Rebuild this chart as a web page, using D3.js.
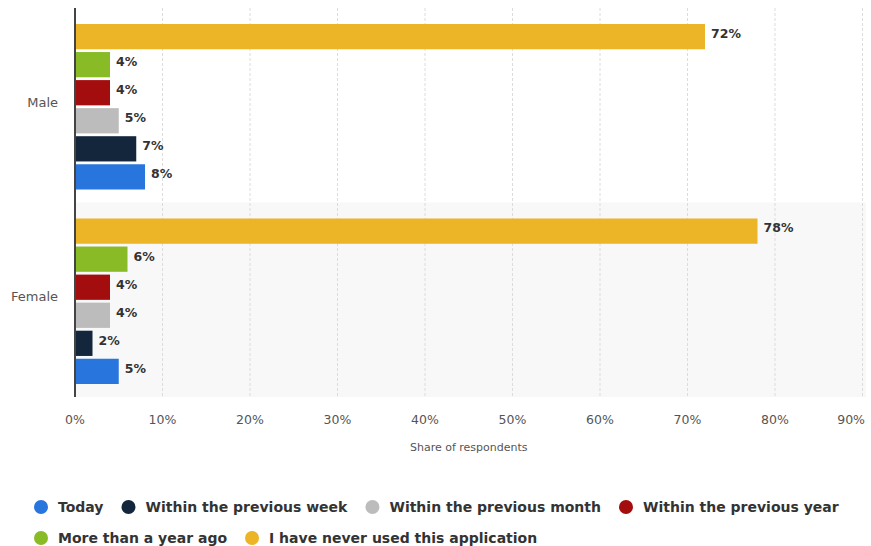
<!DOCTYPE html>
<html>
<head>
<meta charset="utf-8">
<script src="https://cdn.jsdelivr.net/npm/d3@7"></script>
<style>
  body { margin: 0; background: #fff; }
  text { font-family: "DejaVu Sans", sans-serif; }
</style>
</head>
<body>
<div id="chart"></div>
<script>
// data
const groups = ["Male", "Female"];
const seriesNames = ["Today", "Within the previous week", "Within the previous month",
  "Within the previous year", "More than a year ago", "I have never used this application"];
const seriesColors = ["#2876dd", "#13263c", "#bcbcbc", "#a40d0d", "#88bb25", "#ecb427"];
const maleValues = [8, 7, 5, 4, 4, 72];
const femaleValues = [5, 2, 4, 4, 6, 78];
const xTicks = [0, 10, 20, 30, 40, 50, 60, 70, 80, 90];

const width = 871, height = 546;
const plotLeft = 75, plotRight = 862.5, plotTop = 8, plotBottom = 397;

const svg = d3.select("#chart").append("svg")
  .attr("width", width)
  .attr("height", height);

const x = d3.scaleLinear().domain([0, 90]).range([plotLeft, plotRight]);
const y = d3.scaleBand().domain(groups).range([plotTop, plotBottom]);
// bars are listed top-down in reverse legend order
const inner = d3.scaleBand()
  .domain(d3.range(seriesNames.length).reverse())
  .range([16, y.bandwidth() - 13])
  .paddingInner(0.1);

const valuesFor = g => g === "Male" ? maleValues : femaleValues;

// shaded band for female
svg.append("rect")
  .attr("x", plotLeft)
  .attr("y", y("Female"))
  .attr("width", 866 - plotLeft)
  .attr("height", y.bandwidth())
  .attr("fill", "#f8f8f8");

// gridlines
svg.selectAll(".grid")
  .data(xTicks.slice(1))
  .enter()
  .append("line")
  .attr("x1", d => x(d)).attr("x2", d => x(d))
  .attr("y1", plotTop).attr("y2", plotBottom)
  .attr("stroke", "#dcdcdc")
  .attr("stroke-dasharray", "3,2");

// bars
groups.forEach(g => {
  const vals = valuesFor(g);
  const gg = svg.append("g").attr("transform", `translate(0,${y(g)})`);
  gg.selectAll("rect")
    .data(vals.map((v, i) => ({ v, i })))
    .enter()
    .append("rect")
    .attr("x", x(0))
    .attr("y", d => inner(d.i))
    .attr("width", d => x(d.v) - x(0))
    .attr("height", inner.bandwidth())
    .attr("fill", d => seriesColors[d.i]);

  gg.selectAll("text")
    .data(vals.map((v, i) => ({ v, i })))
    .enter()
    .append("text")
    .attr("x", d => x(d.v) + 6)
    .attr("y", d => inner(d.i) + inner.bandwidth() / 2 - 3)
    .attr("dy", "0.35em")
    .attr("font-size", "12.5px")
    .attr("font-weight", "bold")
    .attr("fill", "#333")
    .text(d => d.v + "%");

  svg.append("text")
    .attr("x", 58)
    .attr("y", y(g) + y.bandwidth() / 2 - 3)
    .attr("dy", "0.35em")
    .attr("text-anchor", "end")
    .attr("font-size", "13px")
    .attr("fill", "#555")
    .text(g);
});

// left axis line
svg.append("line")
  .attr("x1", plotLeft).attr("x2", plotLeft)
  .attr("y1", plotTop).attr("y2", plotBottom)
  .attr("stroke", "#444")
  .attr("stroke-width", 2);

// x tick labels (last one kept inside the frame)
svg.selectAll(".xtick")
  .data(xTicks)
  .enter()
  .append("text")
  .attr("x", (d, i) => i === xTicks.length - 1 ? 865 : x(d))
  .attr("y", 420)
  .attr("dy", "0.35em")
  .attr("text-anchor", (d, i) => i === xTicks.length - 1 ? "end" : "middle")
  .attr("font-size", "12.5px")
  .attr("fill", "#555")
  .text(d => d + "%");

svg.append("text")
  .attr("x", (plotLeft + plotRight) / 2)
  .attr("y", 447)
  .attr("dy", "0.35em")
  .attr("text-anchor", "middle")
  .attr("font-size", "11px")
  .attr("fill", "#555")
  .text("Share of respondents");

// legend, two rows flowed left to right
const rows = [[0, 1, 2, 3], [4, 5]];
rows.forEach((row, r) => {
  let cx = 41;
  const cy = 507 + r * 31;
  row.forEach(i => {
    svg.append("circle")
      .attr("cx", cx).attr("cy", cy)
      .attr("r", 7)
      .attr("fill", seriesColors[i]);
    const t = svg.append("text")
      .attr("x", cx + 17)
      .attr("y", cy)
      .attr("dy", "0.35em")
      .attr("font-size", "14px")
      .attr("font-weight", "bold")
      .attr("fill", "#333")
      .text(seriesNames[i]);
    cx += 17 + t.node().getComputedTextLength() + 25;
  });
});
</script>
</body>
</html>
